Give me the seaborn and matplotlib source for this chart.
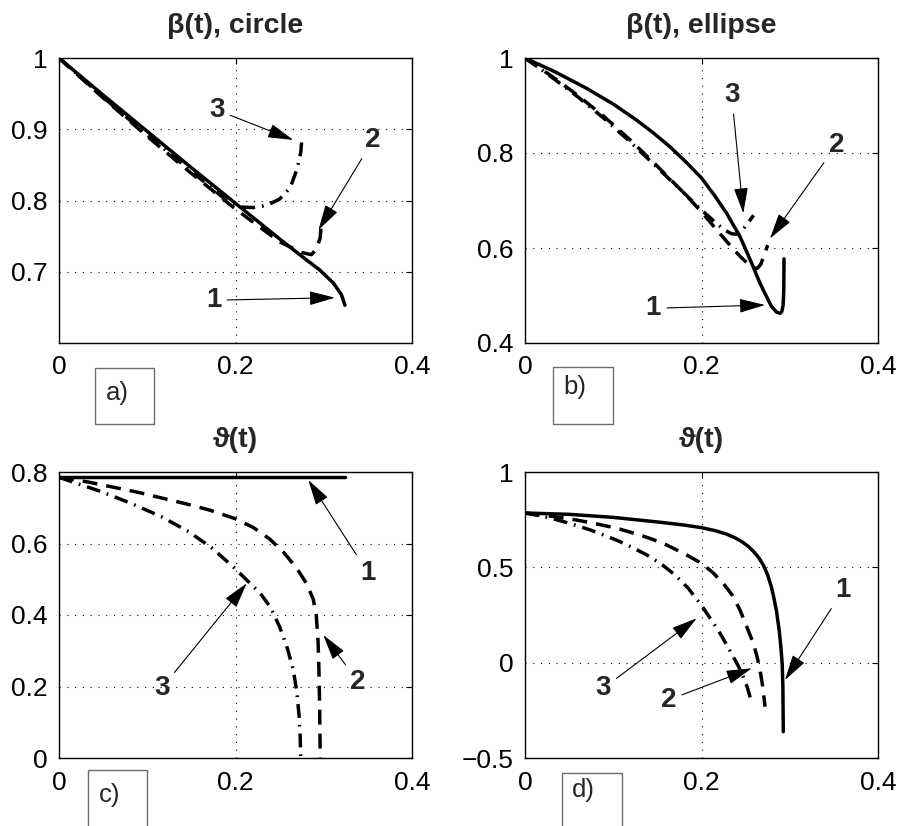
import matplotlib
matplotlib.use("Agg")
import matplotlib.pyplot as plt
from matplotlib.patches import Rectangle
import seaborn as sns

# curvas: 1 = solida, 2 = tracejada, 3 = traco-ponto
# a) beta(t), circulo
a1_x = [0, 0.05, 0.10, 0.15, 0.20, 0.25, 0.28, 0.295, 0.311, 0.320, 0.324]
a1_y = [1.0, 0.948, 0.897, 0.846, 0.796, 0.746, 0.717, 0.703, 0.684, 0.668, 0.653]
a2_x = [0, 0.05, 0.10, 0.15, 0.20, 0.25, 0.275, 0.286, 0.292, 0.296, 0.297]
a2_y = [1.0, 0.944, 0.890, 0.838, 0.788, 0.742, 0.727, 0.724, 0.732, 0.748, 0.765]
a3_x = [0, 0.05, 0.10, 0.15, 0.19, 0.205, 0.22, 0.235, 0.25, 0.262, 0.27, 0.274, 0.275]
a3_y = [1.0, 0.945, 0.892, 0.841, 0.800, 0.791, 0.790, 0.793, 0.802, 0.818, 0.845, 0.868, 0.883]

# b) beta(t), elipse
b1_x = [0, 0.035, 0.0699, 0.10, 0.1266, 0.145, 0.1643, 0.183, 0.2002, 0.215, 0.2285, 0.2436,
        0.251, 0.2587, 0.266, 0.2739, 0.279, 0.285, 0.289, 0.291, 0.2925, 0.2932, 0.2935]
b1_y = [1.0, 0.970, 0.936, 0.903, 0.869, 0.843, 0.813, 0.780, 0.747, 0.710, 0.673, 0.624,
        0.593, 0.560, 0.527, 0.497, 0.478, 0.465, 0.4625, 0.466, 0.480, 0.510, 0.577]
b2_x = [0, 0.03, 0.06, 0.09, 0.12, 0.15, 0.18, 0.20, 0.22, 0.235, 0.245, 0.253, 0.259,
        0.263, 0.267, 0.271, 0.275]
b2_y = [1.0, 0.962, 0.921, 0.876, 0.826, 0.772, 0.716, 0.676, 0.632, 0.600, 0.580, 0.566, 0.558,
        0.557, 0.565, 0.585, 0.606]
b3_x = [0, 0.03, 0.06, 0.09, 0.12, 0.15, 0.18, 0.20, 0.215, 0.226, 0.234, 0.240, 0.246, 0.252, 0.259]
b3_y = [1.0, 0.960, 0.918, 0.872, 0.822, 0.769, 0.716, 0.680, 0.655, 0.638, 0.630, 0.629, 0.637, 0.651, 0.669]

# c) theta(t), circulo
c1_x = [0, 0.324]
c1_y = [0.785, 0.785]
c2_x = [0, 0.033, 0.09, 0.147, 0.17, 0.199, 0.22, 0.239, 0.255, 0.269, 0.28, 0.288, 0.2915,
        0.2935, 0.2945, 0.2953, 0.2958, 0.296]
c2_y = [0.785, 0.772, 0.743, 0.709, 0.694, 0.670, 0.645, 0.612, 0.574, 0.532, 0.490, 0.445, 0.400,
        0.330, 0.250, 0.150, 0.050, 0.0]
c3_x = [0, 0.048, 0.082, 0.116, 0.147, 0.173, 0.199, 0.228, 0.24, 0.25, 0.259, 0.2655, 0.2695,
        0.272, 0.2733, 0.2739]
c3_y = [0.785, 0.745, 0.712, 0.675, 0.633, 0.588, 0.531, 0.461, 0.420, 0.367, 0.305, 0.246, 0.185,
        0.120, 0.060, 0.004]

# d) theta(t), elipse
d1_x = [0, 0.05, 0.10, 0.15, 0.18, 0.20, 0.215, 0.228, 0.238, 0.246, 0.253, 0.259, 0.265, 0.270,
        0.275, 0.279, 0.282, 0.285, 0.288, 0.290, 0.2915, 0.2922, 0.2927]
d1_y = [0.785, 0.778, 0.762, 0.738, 0.722, 0.708, 0.693, 0.675, 0.655, 0.634, 0.610, 0.583, 0.550, 0.512,
        0.460, 0.400, 0.340, 0.270, 0.170, 0.080, -0.010, -0.120, -0.362]
d2_x = [0, 0.03, 0.0586, 0.08, 0.104, 0.13, 0.145, 0.1606, 0.18, 0.20, 0.213, 0.2247, 0.235,
        0.2436, 0.251, 0.2587, 0.263, 0.2663, 0.2695, 0.272]
d2_y = [0.785, 0.768, 0.748, 0.729, 0.705, 0.670, 0.646, 0.617, 0.573, 0.521, 0.472, 0.416, 0.353,
        0.276, 0.192, 0.102, 0.030, -0.038, -0.130, -0.231]
d3_x = [0, 0.026, 0.051, 0.074, 0.09, 0.108, 0.123, 0.138, 0.155, 0.17, 0.185, 0.2, 0.211, 0.221,
        0.229, 0.236, 0.242, 0.2474, 0.252, 0.257]
d3_y = [0.785, 0.762, 0.730, 0.696, 0.668, 0.634, 0.601, 0.565, 0.515, 0.460, 0.390, 0.300, 0.225, 0.154,
        0.090, 0.031, -0.020, -0.074, -0.130, -0.213]

titulos = ["\u03b2(t), circle", "\u03b2(t), ellipse", "\u03d1(t)", "\u03d1(t)"]
letras = ["a)", "b)", "c)", "d)"]
x_ticks = [0, 0.2, 0.4]
x_labels = ["0", "0.2", "0.4"]
y_ticks = [[0.7, 0.8, 0.9, 1], [0.4, 0.6, 0.8, 1], [0, 0.2, 0.4, 0.6, 0.8], [-0.5, 0, 0.5, 1]]
y_labels = [["0.7", "0.8", "0.9", "1"], ["0.4", "0.6", "0.8", "1"],
            ["0", "0.2", "0.4", "0.6", "0.8"], ["\u22120.5", "0", "0.5", "1"]]
y_lims = [(0.6, 1.0), (0.4, 1.0), (0, 0.8), (-0.5, 1.0)]

# rotulos 1, 2, 3: (texto, texto_x, texto_y, ponta_x, ponta_y)
rotulos = [
    [("1", 0.175, 0.660, 0.3127, 0.6636), ("2", 0.356, 0.885, 0.294, 0.7586), ("3", 0.1787, 0.927, 0.2655, 0.885)],
    [("1", 0.1454, 0.473, 0.272, 0.48), ("2", 0.353, 0.817, 0.2776, 0.620), ("3", 0.2342, 0.922, 0.2474, 0.673)],
    [("1", 0.3505, 0.5166, 0.2825, 0.7776), ("2", 0.339, 0.2135, 0.2995, 0.344), ("3", 0.1163, 0.195, 0.2127, 0.4886)],
    [("1", 0.3607, 0.381, 0.2946, -0.091), ("2", 0.1624, -0.196, 0.2569, -0.0296), ("3", 0.0887, -0.1345, 0.1945, 0.2327)],
]

curvas = [
    [(a1_x, a1_y), (a2_x, a2_y), (a3_x, a3_y)],
    [(b1_x, b1_y), (b2_x, b2_y), (b3_x, b3_y)],
    [(c1_x, c1_y), (c2_x, c2_y), (c3_x, c3_y)],
    [(d1_x, d1_y), (d2_x, d2_y), (d3_x, d3_y)],
]

sns.set_style("white")
fonte = ["Liberation Sans", "DejaVu Sans"]
plt.rcParams["font.family"] = fonte

estilos = ["-", (0, (4.3, 2.6)), (0, (4.0, 2.0, 0.5, 2.0))]

fig = plt.figure(figsize=(9.01, 8.26), dpi=100)
W, H = 901, 826
caixas = [(59, 58), (525, 58), (59, 472), (525, 472)]

for i in range(4):
    x0, y0 = caixas[i]
    h = 285 if i < 2 else 286
    ax = fig.add_axes([x0 / W, 1 - (y0 + h) / H, 353 / W, h / H])
    for (xs, ys), ls in zip(curvas[i], estilos):
        sns.lineplot(x=xs, y=ys, sort=False, estimator=None, color="k",
                     lw=2.5, linestyle=ls, ax=ax)
    ax.set_xlim(0, 0.4)
    ax.set_ylim(*y_lims[i])
    ax.set_xticks(x_ticks)
    ax.set_xticklabels(x_labels)
    ax.set_yticks(y_ticks[i])
    ax.set_yticklabels(y_labels[i])
    ax.tick_params(labelsize=19, direction="in", length=4, width=0.8, pad=8,
                   top=True, right=True, colors="k")
    ax.tick_params(axis="x", pad=9)
    ax.grid(True, color="k", linestyle=(0, (1, 6)), lw=0.8)
    for s in ax.spines.values():
        s.set_color("k")
        s.set_linewidth(1.0)
    ax.set_title(titulos[i], fontsize=20.5, fontweight="bold", pad=18)

    for txt, tx, ty, px, py in rotulos[i]:
        ax.annotate(txt, xy=(px, py), xytext=(tx, ty), fontsize=20, fontweight="bold",
                    ha="center", va="center",
                    arrowprops=dict(arrowstyle="-|>,head_length=0.8,head_width=0.22",
                                    color="k", lw=0.8, shrinkA=2, shrinkB=0))

# caixinhas com as letras
quadros = [(95, 368, 154, 424), (553, 367, 613, 424), (88, 770, 147, 840), (562, 773, 622, 840)]
textos_pos = [(106, 393), (563, 387), (99, 795), (572, 790)]
for (l, t, r, b), (tx, ty), letra in zip(quadros, textos_pos, letras):
    fig.patches.append(Rectangle((l / W, 1 - b / H), (r - l) / W, (b - t) / H,
                                 transform=fig.transFigure, fill=False,
                                 edgecolor="#6e6e6e", lw=1.0))
    fig.text(tx / W, 1 - ty / H, letra, fontsize=18.5, ha="left", va="center")

fig.savefig("out.png", dpi=100)
